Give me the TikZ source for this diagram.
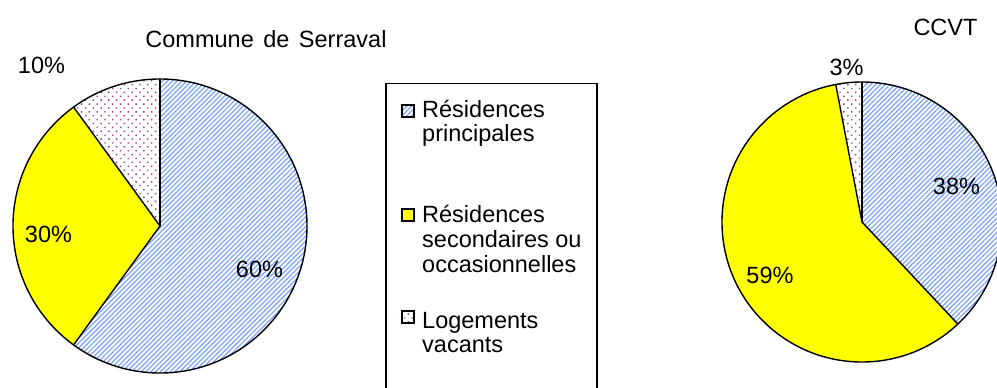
\documentclass[tikz,border=0pt]{standalone}
\usepackage{fontspec}
\setmainfont{Liberation Sans}
\usetikzlibrary{patterns.meta}
\definecolor{stripeblue}{RGB}{120,160,255}
\definecolor{dotred}{RGB}{160,60,110}
\definecolor{pieyellow}{RGB}{255,255,0}
\tikzset{
  blueh/.style={pattern={Lines[angle=45,distance=3.4pt,line width=1.2pt]},pattern color=stripeblue},
  yel/.style={fill=pieyellow},
  dotp/.style={pattern={Dots[angle=45,distance=5.5pt,radius=1pt]},pattern color=dotred},
  outl/.style={draw=black,line width=1.4pt,line join=round},
  txt/.style={font=\fontsize{23.5}{28}\selectfont,inner sep=0pt,anchor=base},
  leg/.style={font=\fontsize{23.5}{28}\selectfont,inner sep=0pt,anchor=base west},
  legbox/.style={draw=black,line width=1.2pt}
}
\begin{document}
\begin{tikzpicture}[x=1pt,y=-1pt]
\useasboundingbox (0,0) rectangle (997,388);
\clip (0,0) rectangle (997,388);
\fill[white] (0,0) rectangle (997,388);
% left pie
\begin{scope}[shift={(160,226)},yscale=-1]
  \coordinate (lc) at (0,0);
  \fill[blueh] (lc) -- (90:147) arc[start angle=90,end angle=-126,radius=147] -- cycle;
  \fill[yel] (lc) -- (234:147) arc[start angle=234,end angle=126,radius=147] -- cycle;
  \fill[dotp] (lc) -- (126:147) arc[start angle=126,end angle=90,radius=147] -- cycle;
  \draw[outl] (lc) -- (90:147);
  \draw[outl] (lc) -- (234:147);
  \draw[outl] (lc) -- (126:147);
  \draw[outl] (lc) circle[radius=147];
\end{scope}
% right pie
\begin{scope}[shift={(862,222)},yscale=-1]
  \coordinate (rc) at (0,0);
  \fill[blueh] (rc) -- (90:140) arc[start angle=90,end angle=-46.8,radius=140] -- cycle;
  \fill[yel] (rc) -- (-46.8:140) arc[start angle=-46.8,end angle=-259.2,radius=140] -- cycle;
  \fill[dotp] (rc) -- (100.8:140) arc[start angle=100.8,end angle=90,radius=140] -- cycle;
  \draw[outl] (rc) -- (90:140);
  \draw[outl] (rc) -- (-46.8:140);
  \draw[outl] (rc) -- (100.8:140);
  \draw[outl] (rc) circle[radius=140];
\end{scope}
% titles and labels
\node[txt] (t1) at (266,47) {Commune\hspace{3pt} de\hspace{3pt} Serraval};
\node[txt] (t2) at (945.5,35) {CCVT};
\node[txt] (p10) at (41.5,73) {10\%};
\node[txt] (p30) at (48.5,242) {30\%};
\node[txt] (p60) at (259.5,277) {60\%};
\node[txt] (p3) at (846.5,75) {3\%};
\node[txt] (p38) at (956.5,194) {38\%};
\node[txt] (p59) at (770,283) {59\%};
% legend
\draw[line width=1.6pt] (386,400) -- (386,83.5) -- (597,83.5) -- (597,400);
\fill[blueh] (402,105) rectangle (414,117);
\draw[legbox] (402,105) rectangle (414,117);
\fill[yel] (402,209) rectangle (414,221);
\draw[legbox] (402,209) rectangle (414,221);
\fill[dotp] (402,311) rectangle (414,323);
\draw[legbox] (402,311) rectangle (414,323);
\node[leg] (l1a) at (422,117) {Résidences};
\node[leg] (l1b) at (422,141) {principales};
\node[leg] (l2a) at (422,222) {Résidences};
\node[leg] (l2b) at (422,247) {secondaires ou};
\node[leg] (l2c) at (422,272) {occasionnelles};
\node[leg] (l3a) at (422,328) {Logements};
\node[leg] (l3b) at (422,352) {vacants};
\end{tikzpicture}
\end{document}
